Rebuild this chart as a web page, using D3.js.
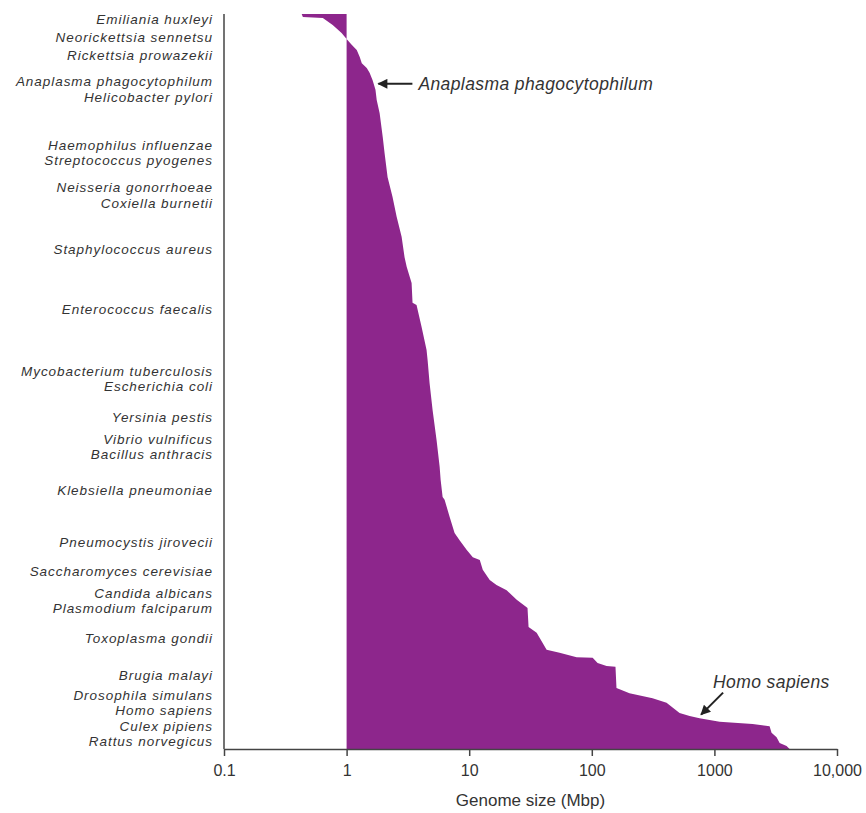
<!DOCTYPE html>
<html lang="en">

<head>
    <meta charset="UTF-8">
    <title>Genome size</title>
    <script src="https://d3js.org/d3.v7.min.js"></script>
    <style>
    body {
        margin: 0;
        background: white;
    }

    text {
        font-family: "Liberation Sans", Arial, Helvetica, sans-serif;
        fill: #333;
    }

    .species {
        font-style: italic;
        font-size: 13.5px;
        letter-spacing: 0.95px;
    }

    .note {
        font-style: italic;
        font-size: 17.5px;
        letter-spacing: 0.4px;
    }
    </style>
</head>

<body>
    <div class="content"></div>
    <script>
    // rank of organism (percent of list, smallest genome at top) and genome size in Mbp
    var rankPct = [0, 0.4, 0.54, 1.5, 2.6, 3.4, 4.2, 4.9, 5.85, 6.7, 7.35, 8.0, 9.0, 10.3, 11.7, 13.5,
        16.7, 18.9, 22.2, 24.9, 27.6, 30.3, 33.1, 34.4, 36.6, 39.3, 39.6, 42.6, 45.7, 47.1, 50.2, 53.9,
        58.0, 61.6, 63.4, 65.7, 66.1, 68.4, 70.6, 71.6, 72.9, 73.9, 74.3, 75.6, 77.0, 77.7, 78.4, 79.7,
        80.7, 80.8, 83.4, 84.2, 86.5, 86.9, 87.5, 87.6, 88.3, 88.7, 88.8, 91.7, 92.4, 93.1, 93.7, 95.1,
        95.5, 95.8, 96.3, 96.6, 96.9, 97.8, 98.4, 99.2, 99.6, 100];
    var genomeMbp = [0.43, 0.44, 0.64, 0.77, 0.91, 1.0, 1.1, 1.21, 1.28, 1.33, 1.46, 1.54, 1.63, 1.72, 1.76, 1.86,
        1.97, 2.04, 2.16, 2.37, 2.56, 2.81, 2.97, 3.09, 3.39, 3.45, 3.72, 4.09, 4.49, 4.58, 4.75, 5.03,
        5.42, 5.74, 5.85, 6.07, 6.3, 6.92, 7.6, 8.35, 9.52, 10.7, 12.2, 12.9, 14.7, 16.7, 20.2, 24.4,
        29.4, 29.9, 30.5, 35.5, 42.8, 54.6, 75.2, 101.6, 111.5, 132, 156, 159, 203, 313, 407, 520,
        628, 757, 1103, 2050, 2820, 2925, 3215, 3406, 3881, 4104];

    // labelled organisms and where they sit in the ranking
    var labelNames = ['Emiliania huxleyi', 'Neorickettsia sennetsu', 'Rickettsia prowazekii',
        'Anaplasma phagocytophilum', 'Helicobacter pylori', 'Haemophilus influenzae', 'Streptococcus pyogenes',
        'Neisseria gonorrhoeae', 'Coxiella burnetii', 'Staphylococcus aureus', 'Enterococcus faecalis',
        'Mycobacterium tuberculosis', 'Escherichia coli', 'Yersinia pestis', 'Vibrio vulnificus',
        'Bacillus anthracis', 'Klebsiella pneumoniae', 'Pneumocystis jirovecii', 'Saccharomyces cerevisiae',
        'Candida albicans', 'Plasmodium falciparum', 'Toxoplasma gondii', 'Brugia malayi',
        'Drosophila simulans', 'Homo sapiens', 'Culex pipiens', 'Rattus norvegicus'];
    var labelRank = [0.68, 3.13, 5.58, 9.12, 11.29, 17.82, 19.86, 23.54, 25.71, 31.97, 40.14,
        48.57, 50.61, 54.83, 57.82, 59.86, 64.76, 71.84, 75.78, 78.78, 80.82, 84.9, 89.93,
        92.65, 94.69, 96.87, 98.98];

    var tickValues = [0.1, 1, 10, 100, 1000, 10000];
    var tickLabels = ['0.1', '1', '10', '100', '1000', '10,000'];

    // the two called-out organisms: rank and genome size the arrow points at
    var callouts = [
        { name: 'Anaplasma phagocytophilum', rank: 9.5, mbp: 1.75 },
        { name: 'Homo sapiens', rank: 95.6, mbp: 750 }
    ];

    var p = {
        width: 866,
        height: 813,
        left: 224,
        right: 29,
        top: 14,
        bottom: 64,
        purple: '#8d268c',
        axisColor: '#444'
    };

    var svg = d3.select('.content')
        .append('svg')
        .attr('width', p.width)
        .attr('height', p.height);

    var x = d3.scaleLog()
        .domain([0.1, 10000])
        .range([p.left, p.width - p.right]);

    var y = d3.scaleLinear()
        .domain([0, 100])
        .range([p.top, p.height - p.bottom]);

    var points = rankPct.map(function(r, i) {
        return { r: r, v: genomeMbp[i] };
    });

    // area from 1 Mbp out to the genome size of each organism
    var area = d3.area()
        .x0(x(1))
        .x1(function(d) { return x(d.v); })
        .y(function(d) { return y(d.r); });

    svg.append('path')
        .datum(points)
        .attr('d', area)
        .attr('fill', p.purple);

    // x axis
    var xAxis = d3.axisBottom(x)
        .tickValues(tickValues)
        .tickFormat(function(d, i) { return tickLabels[i]; })
        .tickSize(7)
        .tickSizeOuter(0)
        .tickPadding(9);

    var gx = svg.append('g')
        .attr('transform', 'translate(0,' + y(100) + ')')
        .call(xAxis);

    gx.select('.domain').attr('stroke', p.axisColor).attr('stroke-width', 1.5);
    gx.selectAll('.tick line').attr('stroke', p.axisColor).attr('stroke-width', 1.5);
    gx.selectAll('.tick text')
        .attr('fill', '#333')
        .style('font-size', '16px')
        .style('font-family', '"Liberation Sans", Arial, sans-serif');

    svg.append('text')
        .attr('x', (x(0.1) + x(10000)) / 2)
        .attr('y', p.height - 7)
        .attr('text-anchor', 'middle')
        .style('font-size', '17px')
        .text('Genome size (Mbp)');

    // y axis is just a rule with the organism names next to it
    svg.append('line')
        .attr('x1', x(0.1))
        .attr('x2', x(0.1))
        .attr('y1', y(0))
        .attr('y2', y(100))
        .attr('stroke', p.axisColor)
        .attr('stroke-width', 1.5);

    svg.selectAll('.species')
        .data(labelNames)
        .enter()
        .append('text')
        .attr('class', 'species')
        .attr('x', x(0.1) - 11)
        .attr('y', function(d, i) { return y(labelRank[i]); })
        .attr('dy', '0.35em')
        .attr('text-anchor', 'end')
        .text(function(d) { return d; });

    // arrows
    var defs = svg.append('defs');
    defs.append('marker')
        .attr('id', 'head')
        .attr('viewBox', '0 0 10 10')
        .attr('refX', 9)
        .attr('refY', 5)
        .attr('markerWidth', 7)
        .attr('markerHeight', 5)
        .attr('orient', 'auto')
        .append('path')
        .attr('d', 'M0,0 L10,5 L0,10 z')
        .attr('fill', '#222');

    // Anaplasma: horizontal arrow, text to the right
    var a = callouts[0];
    svg.append('line')
        .attr('x1', x(a.mbp) + 36)
        .attr('y1', y(a.rank))
        .attr('x2', x(a.mbp) + 2)
        .attr('y2', y(a.rank))
        .attr('stroke', '#222')
        .attr('stroke-width', 2)
        .attr('marker-end', 'url(#head)');
    svg.append('text')
        .attr('class', 'note')
        .attr('x', x(a.mbp) + 42)
        .attr('y', y(a.rank))
        .attr('dy', '0.35em')
        .text(a.name);

    // Homo sapiens: diagonal arrow from the text down to the curve
    var h = callouts[1];
    svg.append('line')
        .attr('x1', x(h.mbp) + 24)
        .attr('y1', y(h.rank) - 24)
        .attr('x2', x(h.mbp) + 2)
        .attr('y2', y(h.rank) - 2)
        .attr('stroke', '#222')
        .attr('stroke-width', 2)
        .attr('marker-end', 'url(#head)');
    svg.append('text')
        .attr('class', 'note')
        .attr('x', x(h.mbp) + 14)
        .attr('y', y(h.rank) - 29)
        .text(h.name);
    </script>
</body>

</html>
